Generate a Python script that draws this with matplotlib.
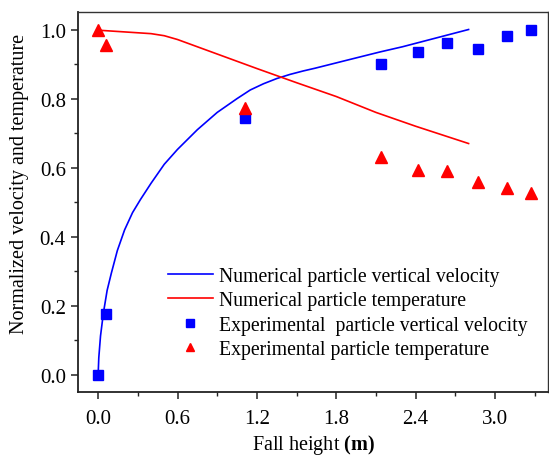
import numpy as np
import matplotlib
matplotlib.use("Agg")
import matplotlib.pyplot as plt
from matplotlib.ticker import MultipleLocator

plt.rcParams['font.family'] = 'Liberation Serif'
plt.rcParams['mathtext.fontset'] = 'custom'
plt.rcParams['mathtext.rm'] = 'Liberation Serif'
plt.rcParams['mathtext.bf'] = 'Liberation Serif:bold'

# numerical (simulated) curves
num_h_vel = [0, 0.005, 0.018, 0.04, 0.068, 0.1, 0.145, 0.2, 0.26, 0.32, 0.4, 0.5,
             0.6, 0.75, 0.9, 1.05, 1.15, 1.25, 1.35, 1.45, 1.55, 1.64, 1.9, 2.13,
             2.3, 2.46, 2.63, 2.8]
num_vel = [0, 0.05, 0.113, 0.18, 0.245, 0.295, 0.36, 0.42, 0.47, 0.508, 0.555, 0.61,
           0.653, 0.71, 0.76, 0.80, 0.825, 0.843, 0.858, 0.87, 0.88, 0.888, 0.913,
           0.935, 0.95, 0.966, 0.983, 1.0]

num_h_temp = [0, 0.2, 0.4, 0.5, 0.6, 0.7, 0.85, 1.0, 1.2, 1.5, 1.8, 2.1, 2.4, 2.6, 2.8]
num_temp = [0.998, 0.993, 0.988, 0.982, 0.971, 0.957, 0.936, 0.915, 0.887, 0.846,
            0.806, 0.76, 0.72, 0.695, 0.67]

# measurements
exp_h = [0, 0.06, 1.11, 2.14, 2.42, 2.64, 2.87, 3.09, 3.27]
exp_vel = [0, 0.178, 0.745, 0.90, 0.935, 0.96, 0.945, 0.98, 1.0]
exp_temp = [1.0, 0.955, 0.772, 0.632, 0.594, 0.59, 0.56, 0.54, 0.526]

fig = plt.figure(figsize=(5.49, 4.56), dpi=100)
ax = fig.add_axes([0.1426, 0.1375, 0.8555, 0.8335])

ax.plot(num_h_vel, num_vel, color='#0000ff', lw=1.2,
        label='Numerical particle vertical velocity')
ax.plot(num_h_temp, num_temp, color='#ff0000', lw=1.2,
        label='Numerical particle temperature')
ax.plot(exp_h, exp_vel, 's', color='#0000ff', ms=6.5, ls='none',
        label='Experimental  particle vertical velocity')
ax.plot(exp_h, exp_temp, '^', color='#ff0000', ms=8, ls='none',
        label='Experimental particle temperature')

ax.set_xlim(-0.15, 3.4)
ax.set_ylim(-0.05, 1.05)
ax.xaxis.set_major_locator(MultipleLocator(0.6))
ax.xaxis.set_minor_locator(MultipleLocator(0.3))
ax.yaxis.set_major_locator(MultipleLocator(0.2))
ax.yaxis.set_minor_locator(MultipleLocator(0.1))
ax.set_xticks([0.0, 0.6, 1.2, 1.8, 2.4, 3.0])
ax.set_xticklabels(['0.0', '0.6', '1.2', '1.8', '2.4', '3.0'])

ax.tick_params(which='major', direction='out', length=5, width=1.1,
               labelsize=15, color='#222222')
ax.tick_params(axis='x', which='major', pad=7)
ax.tick_params(axis='y', which='major', pad=4)
ax.tick_params(which='minor', direction='out', length=3, width=1.0, color='#222222')
for side in ['top', 'right']:
    ax.spines[side].set_linewidth(1.0)
    ax.spines[side].set_color('#333333')
for side in ['left', 'bottom']:
    ax.spines[side].set_linewidth(1.3)
    ax.spines[side].set_color('#222222')

ax.set_xlabel(r'Fall height $\mathbf{(m)}$', fontsize=14.5, labelpad=3)
ax.set_ylabel('Normalized velocity and temperature', fontsize=14.5)
ax.yaxis.set_label_coords(-0.105, 0.55)

ax.legend(loc='upper left', bbox_to_anchor=(0.19, 0.33), frameon=False,
          fontsize=14.2, handlelength=2.3, handletextpad=0.3, labelspacing=0.27,
          borderpad=0, borderaxespad=0, markerscale=0.8)

fig.savefig('out.png', dpi=100)
